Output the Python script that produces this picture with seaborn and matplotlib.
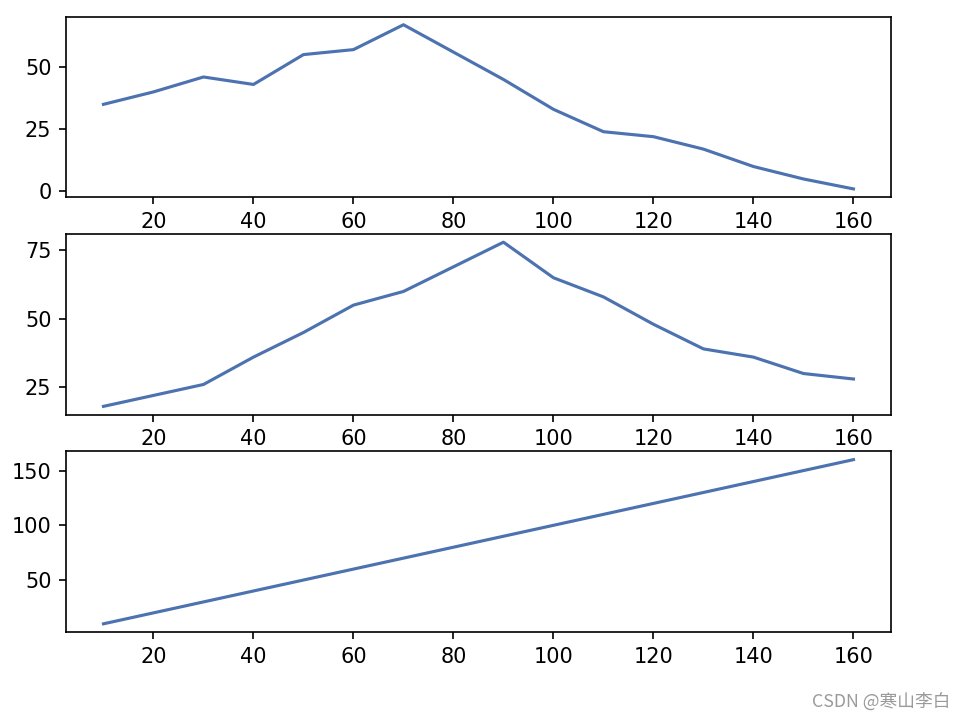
import numpy as np
import pandas as pd
import matplotlib
matplotlib.use("Agg")
import matplotlib.pyplot as plt
import seaborn as sns

# data
x = [10, 20, 30, 40, 50, 60, 70, 80, 90, 100, 110, 120, 130, 140, 150, 160]
y1 = [35, 40, 46, 43, 55, 57, 67, 56, 45, 33, 24, 22, 17, 10, 5, 1]
y2 = [18, 22, 26, 36, 45, 55, 60, 69, 78, 65, 58, 48, 39, 36, 30, 28]
y3 = [10, 20, 30, 40, 50, 60, 70, 80, 90, 100, 110, 120, 130, 140, 150, 160]

df = pd.DataFrame({'x': x, 'y1': y1, 'y2': y2, 'y3': y3})
blue = sns.color_palette('deep')[0]

fig, axes = plt.subplots(3, 1, figsize=(6.42, 4.807), dpi=150)
fig.subplots_adjust(left=0.0685, right=0.9252, top=0.977, bottom=0.1234, hspace=0.204)

for ax, col in zip(axes, ['y1', 'y2', 'y3']):
    sns.lineplot(data=df, x='x', y=col, ax=ax, color=blue, linewidth=1.5)
    ax.set_xlabel('')
    ax.set_ylabel('')
    ax.set_xticks([20, 40, 60, 80, 100, 120, 140, 160])

axes[0].set_yticks([0, 25, 50])
axes[1].set_yticks([25, 50, 75])
axes[2].set_yticks([50, 100, 150])

# watermark
fig.text(0.987, 0.025, 'CSDN @寒山李白', ha='right', va='center', fontsize=8.5,
         color='#9a9a9a', family=['Noto Sans CJK SC', 'DejaVu Sans'])

fig.savefig('out.png', dpi=150)
